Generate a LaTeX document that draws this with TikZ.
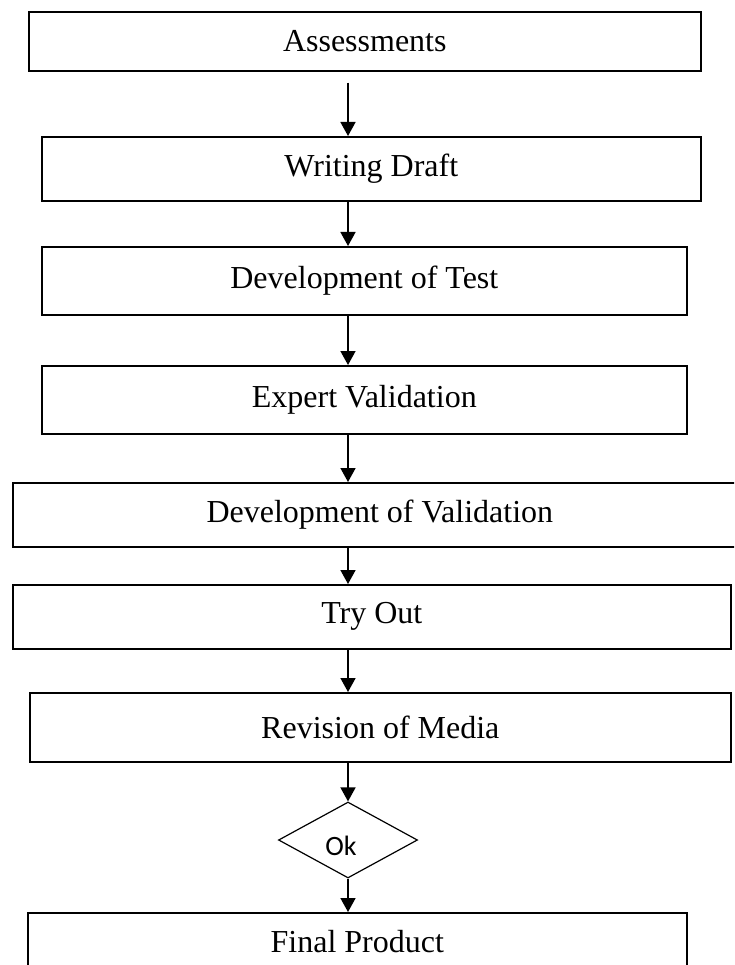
\documentclass[tikz,border=0pt]{standalone}
\usepackage{fontspec}
\setmainfont{Liberation Serif}
\newfontfamily\okfont{Carlito}
\usetikzlibrary{shapes.geometric,arrows.meta}
\begin{document}
\begin{tikzpicture}[x=1pt,y=1pt,
  stepbox/.style={draw=black,line width=1.6pt,rectangle,inner sep=0pt,anchor=north west,
    font=\fontsize{32}{38}\selectfont},
  arr/.style={line width=1.6pt,-{Triangle[length=14pt,width=15pt]}},
  decision/.style={draw=black,line width=1.2pt,diamond,inner sep=0pt,
    minimum width=139pt,minimum height=76pt,text height=30pt,text depth=0pt,
    font=\okfont\fontsize{28}{32}\selectfont}]
\clip (0,0) rectangle (734,-965);
\fill[white] (0,0) rectangle (734,-965);
\coordinate (ax) at (348,0);
\node[stepbox,minimum width=672pt,minimum height=59pt] (b1) at (28,-11) {Assessments};
\node[stepbox,minimum width=659pt,minimum height=64pt] (b2) at (41,-136) {Writing Draft};
\node[stepbox,minimum width=645pt,minimum height=68pt] (b3) at (41,-246) {Development of Test};
\node[stepbox,minimum width=645pt,minimum height=68pt] (b4) at (41,-365) {Expert Validation};
\node[stepbox,minimum width=740pt,minimum height=64pt] (b5) at (12,-482) {\hspace*{-6pt}Development of Validation};
\node[stepbox,minimum width=718pt,minimum height=64pt] (b6) at (12,-584) {Try Out};
\node[stepbox,minimum width=701pt,minimum height=69pt] (b7) at (29,-692) {Revision of Media};
\node[decision] (d) at (348,-840) {\hspace*{-14pt}Ok};
\node[stepbox,minimum width=659pt,minimum height=58pt] (b9) at (27,-912) {Final Product};
\draw[arr,shorten <=11pt] (b1.south -| ax) -- (b2.north -| ax);
\draw[arr] (b2.south -| ax) -- (b3.north -| ax);
\draw[arr] (b3.south -| ax) -- (b4.north -| ax);
\draw[arr] (b4.south -| ax) -- (b5.north -| ax);
\draw[arr] (b5.south -| ax) -- (b6.north -| ax);
\draw[arr] (b6.south -| ax) -- (b7.north -| ax);
\draw[arr] (b7.south -| ax) -- (d.north);
\draw[arr] (d.south) -- (b9.north -| ax);
\end{tikzpicture}
\end{document}
